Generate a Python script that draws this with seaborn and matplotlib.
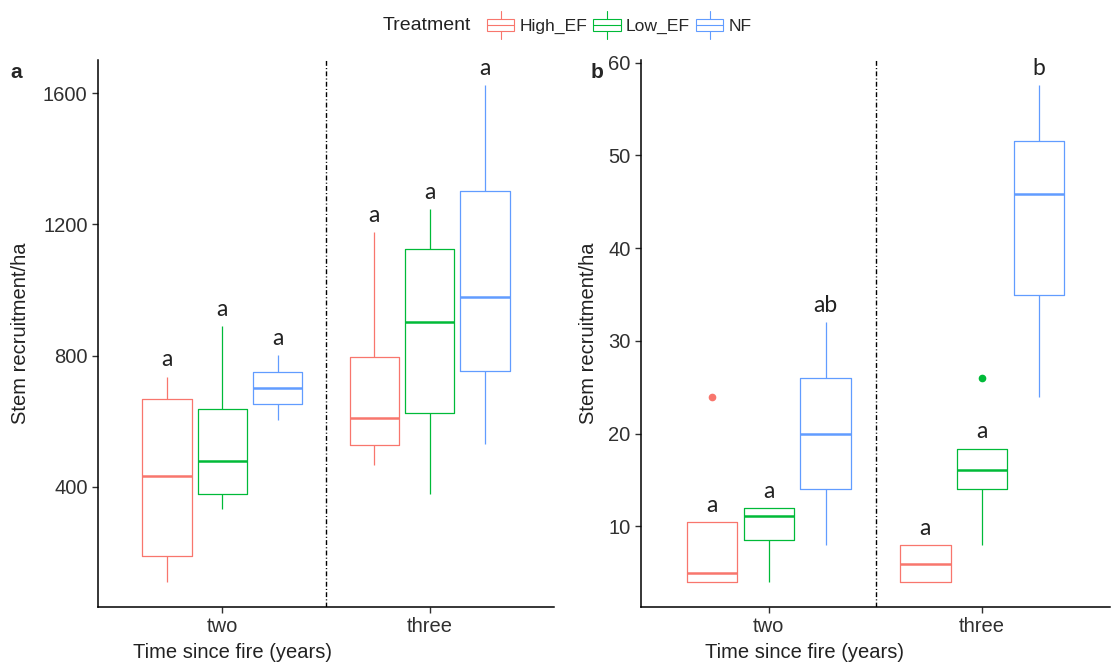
import numpy as np
import pandas as pd
import matplotlib
matplotlib.use('Agg')
import matplotlib.pyplot as plt
import matplotlib.patches as mpatches
import matplotlib.lines as mlines
from matplotlib.legend_handler import HandlerBase
import seaborn as sns

# categories
times = ['two', 'three']
treatments = ['High_EF', 'Low_EF', 'NF']
colors = ['#F8766D', '#00BA38', '#619CFF']

# five-number summaries
# order: (two, High_EF), (two, Low_EF), (two, NF), (three, High_EF), (three, Low_EF), (three, NF)
a_low = [110, 334, 604, 466, 377, 532]
a_q1 = [189, 380, 652, 529, 626, 753]
a_med = [433, 478, 702, 610, 902, 980]
a_q3 = [667, 636, 749, 795, 1126, 1301]
a_high = [736, 889, 802, 1177, 1247, 1625]
a_out = [None, None, None, None, None, None]
a_letters = ['a', 'a', 'a', 'a', 'a', 'a']

b_low = [4, 4, 8, 4, 8, 24]
b_q1 = [4, 8.5, 14, 4, 14, 35]
b_med = [5, 11.1, 20, 6, 16.1, 45.8]
b_q3 = [10.5, 12, 26, 8, 18.4, 51.5]
b_high = [10.5, 12, 32, 8, 18.4, 57.6]
b_out = [24, None, None, None, 26, None]
b_letters = ['a', 'a', 'ab', 'a', 'a', 'b']


def to_frame(low, q1, med, q3, high, out):
    # 9 values per box so the linear quartiles fall exactly on q1 / median / q3
    rows = []
    i = 0
    for t in times:
        for tr in treatments:
            top = out[i] if out[i] is not None else high[i]
            vals = [low[i], q1[i], q1[i], med[i], med[i], med[i], q3[i], high[i], top]
            for v in vals:
                rows.append({'Time': t, 'Treatment': tr, 'value': v})
            i += 1
    return pd.DataFrame(rows)


class BoxKey(HandlerBase):
    # ggplot-like boxplot key glyph
    def create_artists(self, legend, orig_handle, xdescent, ydescent,
                       width, height, fontsize, trans):
        c = orig_handle.get_edgecolor()
        x0, y0 = -xdescent, -ydescent
        xm = x0 + width / 2
        box = mpatches.Rectangle((x0, y0 + height * 0.27), width, height * 0.46,
                                 facecolor='white', edgecolor=c, lw=0.8, transform=trans)
        w1 = mlines.Line2D([xm, xm], [y0, y0 + height * 0.27], color=c, lw=0.8, transform=trans)
        w2 = mlines.Line2D([xm, xm], [y0 + height * 0.73, y0 + height], color=c, lw=0.8, transform=trans)
        md = mlines.Line2D([x0, x0 + width], [y0 + height * 0.5] * 2, color=c, lw=0.8, transform=trans)
        return [box, w1, w2, md]


sns.set_theme(style='ticks')
plt.rcParams['font.family'] = ['Liberation Sans', 'DejaVu Sans']
plt.rcParams['axes.linewidth'] = 1.1

fig = plt.figure(figsize=(11.13, 6.69), dpi=100)
ax_a = fig.add_axes([98 / 1113, 62 / 669, 456 / 1113, 547 / 669])
ax_b = fig.add_axes([641 / 1113, 62 / 669, 469 / 1113, 547 / 669])

panels = [
    (ax_a, (a_low, a_q1, a_med, a_q3, a_high, a_out), a_letters, [400, 800, 1200, 1600], 'a', -0.149, 0.294, -0.18),
    (ax_b, (b_low, b_q1, b_med, b_q3, b_high, b_out), b_letters, [10, 20, 30, 40, 50, 60], 'b', -0.092, 0.348, -0.094),
]

for ax, stats, letters, yticks, tag, ylab_x, xlab_x, tag_x in panels:
    df = to_frame(*stats)
    sns.boxplot(data=df, x='Time', y='value', hue='Treatment', order=times,
                hue_order=treatments, palette=colors, saturation=1, fill=False,
                width=0.8, gap=0.11, linewidth=0.9, whis=1.5, legend=False,
                medianprops=dict(linewidth=1.8), capprops=dict(linewidth=0),
                flierprops=dict(marker='o', markersize=4.5), ax=ax)
    for ln in ax.lines:
        if ln.get_marker() == 'o':
            ln.set_markerfacecolor(ln.get_markeredgecolor())

    # significance letters above upper whiskers
    low, q1, med, q3, high, out = stats
    offsets = [-0.8 / 3, 0, 0.8 / 3]
    i = 0
    for xi in range(len(times)):
        for k in range(len(treatments)):
            ax.annotate(letters[i], (xi + offsets[k], high[i]), xytext=(0, 12),
                        textcoords='offset points', ha='center', va='center',
                        fontsize=16.5, family=['Lato', 'DejaVu Sans'], color='#222222')
            i += 1

    ax.axvline(0.5, color='black', lw=1, linestyle=(0, (3.5, 1.6, 0.8, 1.6)))

    ymin = min(low)
    ymax = max(high + [o for o in out if o is not None])
    pad = 0.05 * (ymax - ymin)
    ax.set_ylim(ymin - pad, ymax + pad)
    ax.set_xlim(-0.6, 1.6)
    ax.set_yticks(yticks)
    ax.tick_params(labelsize=14.5, labelcolor='#303030', color='#303030', length=4, width=1)
    sns.despine(ax=ax)
    ax.spines['left'].set_color('black')
    ax.spines['bottom'].set_color('black')

    ax.set_ylabel('Stem recruitment/ha', fontsize=14.5, color='#222222')
    ax.yaxis.set_label_coords(ylab_x, 0.5)
    ax.set_xlabel('Time since fire (years)', fontsize=14.5, color='#222222')
    ax.xaxis.set_label_coords(xlab_x, -0.066)

    ax.text(tag_x, 0.978, tag, transform=ax.transAxes,
            fontsize=15, fontweight='bold', ha='center', va='center')

# legend across the top
fig.text(383 / 1113, 1 - 25 / 669, 'Treatment', ha='left', va='center', fontsize=14, color='#222222')
handles = [mpatches.Patch(edgecolor=c, facecolor='white') for c in colors]
fig.legend(handles, treatments, handler_map={mpatches.Patch: BoxKey()},
           loc='center left', bbox_to_anchor=(487 / 1113, 1 - 25 / 669), ncol=3,
           frameon=False, fontsize=12.6, handlelength=1.55, handleheight=2.1,
           handletextpad=0.3, columnspacing=0.35, borderpad=0, borderaxespad=0)

fig.savefig('out.png', dpi=100)
